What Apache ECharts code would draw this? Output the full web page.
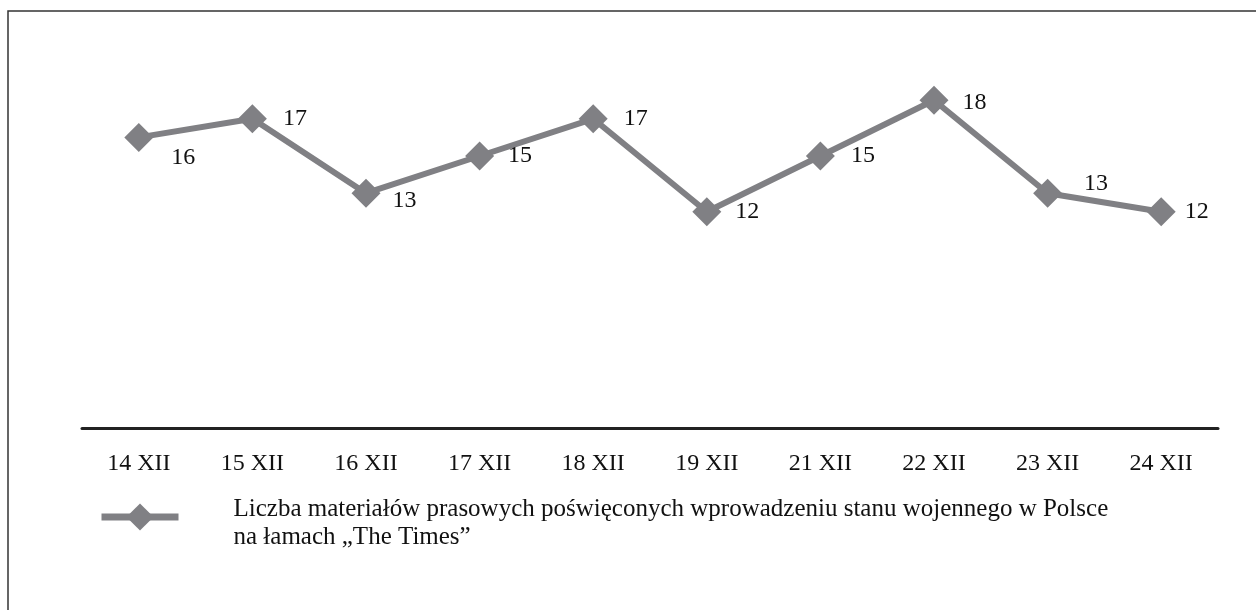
<!DOCTYPE html>
<html>
<head>
<meta charset="utf-8">
<script src="https://cdn.jsdelivr.net/npm/echarts@6/dist/echarts.min.js"></script>
<style>html,body{margin:0;padding:0;background:#fff}#c{width:1256px;height:610px}</style>
</head>
<body>
<div id="c"></div>
<script>
const categories = ['14 XII','15 XII','16 XII','17 XII','18 XII','19 XII','21 XII','22 XII','23 XII','24 XII'];
const values = [16, 17, 13, 15, 17, 12, 15, 18, 13, 12];
const seriesName = 'Liczba materiałów prasowych poświęconych wprowadzeniu stanu wojennego w Polsce\nna łamach „The Times”';
const labelOffsets = [[2,20],[0,0],[-4,8],[-2,0],[0,0],[-2,0],[0,0],[-2,3],[6,-9],[-7,0]];

const FONT = '"Liberation Serif", "Times New Roman", serif';
const GRAY = '#808084';
const chart = echarts.init(document.getElementById('c'), null, {renderer:'canvas'});
chart.setOption({
  animation: false,
  backgroundColor: '#fff',
  textStyle: {fontFamily: FONT},
  graphic: [{
    type: 'rect', shape: {x: 8, y: 11, width: 1300, height: 700},
    style: {fill: 'none', stroke: '#333', lineWidth: 1.5}, silent: true, z: -1
  }],
  grid: {left: 82, right: 38, top: 63, bottom: 175},
  xAxis: {
    type: 'category', data: categories, offset: -7,
    axisLine: {lineStyle: {color: '#222', width: 3}},
    axisTick: {show: false},
    axisLabel: {color: '#111', fontFamily: FONT, fontSize: 24, margin: 24}
  },
  yAxis: {
    type: 'value', min: 0, max: 20, show: false, splitLine: {show: false}
  },
  legend: {
    left: 98, top: 483, orient: 'vertical', padding: 0,
    itemWidth: 77, itemHeight: 34,
    data: [{name: seriesName}],
    lineStyle: {width: 7, color: GRAY},
    itemStyle: {color: GRAY},
    formatter: name => '{pad|\u200b}\n' + name,
    textStyle: {
      fontFamily: FONT, fontSize: 25, color: '#111', lineHeight: 28, padding: [0,0,0,50],
      rich: {pad: {fontSize: 2, lineHeight: 12}}
    }
  },
  series: [{
    name: seriesName, type: 'line',
    data: values.map((v,i) => ({value: v, label: {offset: labelOffsets[i]}})),
    symbol: 'diamond', symbolSize: 29,
    lineStyle: {color: GRAY, width: 6},
    itemStyle: {color: GRAY},
    label: {show: true, position: 'right', distance: 16, color: '#111', fontFamily: FONT, fontSize: 24}
  }]
});
</script>
</body>
</html>
